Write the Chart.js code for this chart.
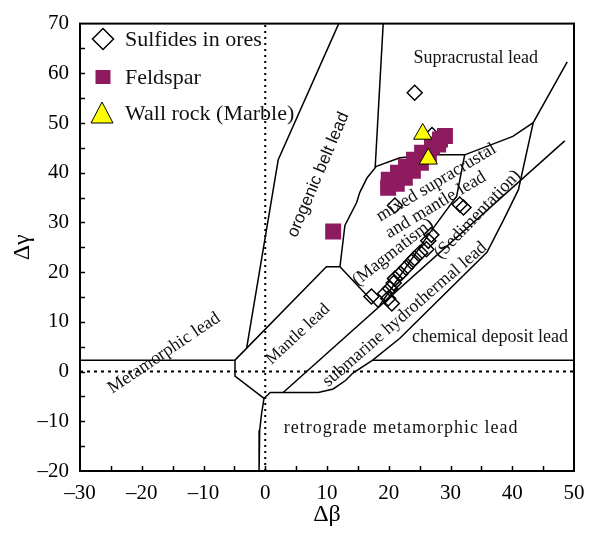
<!DOCTYPE html>
<html>
<head>
<meta charset="utf-8">
<script src="https://cdn.jsdelivr.net/npm/chart.js@4.4.0/dist/chart.umd.min.js"></script>
<style>
  html, body { margin: 0; padding: 0; background: #ffffff; }
  canvas { display: block; }
</style>
</head>
<body>
<canvas id="chart" width="596" height="534"></canvas>
<script>
// ---- Measured lead isotope values (Δβ, Δγ) ----
const sulfideDb = [24.2, 27.0, 21.0, 31.5, 32.1, 26.9, 26.4, 26.1, 25.1, 24.2, 23.7, 22.8, 21.9, 21.0, 20.2, 19.4, 17.2, 20.5, 19.9, 20.8];
const sulfideDg = [56.1, 47.6, 33.4, 33.6, 33.0, 27.5, 26.3, 24.6, 23.9, 22.8, 22.1, 20.9, 19.7, 18.7, 16.7, 15.7, 15.1, 13.7, 14.7, 17.8];

const feldsparDb = [11.0, 19.9, 20.0, 21.3, 21.5, 22.6, 22.8, 23.9, 24.1, 25.2, 25.4, 26.5, 27.0, 28.0, 28.3, 29.1];
const feldsparDg = [28.2, 37.0, 38.6, 37.8, 40.0, 39.0, 41.2, 40.4, 42.6, 42.0, 44.0, 43.4, 45.2, 45.7, 46.7, 47.4];

const marbleDb = [25.5, 26.4];
const marbleDg = [47.8, 42.8];

// ---- Axis ticks ----
const xTicks = [-30, -20, -10, 0, 10, 20, 30, 40, 50];
const yTicks = [-20, -10, 0, 10, 20, 30, 40, 50, 60, 70];

// ---- Field boundaries of the Δβ–Δγ discrimination diagram ([Δβ, Δγ] vertices) ----
const metamorphicShelf = [[-30, 2.3], [-4.9, 2.3], [-4.9, -0.9], [-0.2, -5.4]];
const retrogradeEdge   = [[-0.2, -5.4], [-0.6, -8.5], [-0.9, -11.8], [-1.0, -20]];
const submarineLower   = [[-0.2, -5.4], [0.8, -4.2], [8.6, -4.2], [11.0, -3.5], [13.0, -1.8], [14.2, -0.3],
                          [17.4, 2.3], [21.8, 6.7], [35.9, 24.0], [38.6, 30.5], [41.0, 36.6], [43.4, 50.1], [48.9, 62.3]];
const chemicalBase     = [[17.4, 2.3], [50, 2.3]];
const submarineUpper   = [[2.9, -4.2], [48.5, 46.4]];
const mantleOutline    = [[-4.9, 2.3], [9.9, 21.1], [12.1, 21.1], [18.3, 12.9]];
const mixedTop         = [[12.1, 21.1], [12.9, 29.4], [14.8, 34.0], [15.3, 36.0], [16.5, 39.0], [18.0, 41.3],
                          [21.8, 43.0], [27.5, 43.6], [32.3, 43.6], [40.1, 47.3], [43.4, 50.1]];
const mixedDivider     = [[32.3, 43.6], [31.0, 35.3], [26.7, 28.0], [18.3, 12.9]];
const orogenicLeft     = [[-3.0, 4.8], [2.1, 42.6], [11.9, 70]];
const orogenicRight    = [[19.1, 70], [17.8, 41.0]];
const zeroGammaLine    = [[-30, 0], [50, 0]];
const zeroBetaLine     = [[0, -20], [0, 70]];

// ---- Field names ----
const fieldLabels = [
  { text: 'Supracrustal lead',           x: 34.1,  y: 63.0,  angle: 0,   size: 18 },
  { text: 'orogenic belt lead',          x: 8.6,   y: 39.6,  angle: -67, size: 17, sans: true },
  { text: 'Metamorphic lead',            x: -16.4, y: 3.7,   angle: -34, size: 18 },
  { text: 'Mantle lead',                 x: 5.3,   y: 7.5,   angle: -43, size: 17 },
  { text: 'submarine hydrothermal lead', x: 22.6,  y: 11.5,  angle: -41, size: 18 },
  { text: 'chemical deposit lead',       x: 36.4,  y: 6.9,   angle: 0,   size: 18 },
  { text: 'retrograde metamorphic lead', x: 22.0,  y: -11.4, angle: 0,   size: 18, spacing: 1 },
  { text: 'mixed supracrustal',          x: 27.7,  y: 38.0,  angle: -31, size: 18 },
  { text: 'and mantle lead',             x: 27.6,  y: 33.5,  angle: -31, size: 18 },
  { text: '(Magmatism)',                 x: 20.7,  y: 24.0,  angle: -38, size: 18 },
  { text: '(Sedimentation)',             x: 34.4,  y: 31.6,  angle: -46, size: 18 }
];

const SERIF = "'Liberation Serif', 'Times New Roman', serif";
const SANS = "'Liberation Sans', Arial, sans-serif";
const FELDSPAR_COLOR = '#8e1a5f';

const toPoints = (xs, ys) => xs.map((x, i) => ({ x: x, y: ys[i] }));
const toPath = arr => arr.map(p => ({ x: p[0], y: p[1] }));

function boundary(path, dash) {
  return {
    type: 'scatter',
    data: toPath(path),
    showLine: true,
    borderColor: '#000000',
    borderWidth: dash ? 2 : 1.5,
    borderDash: dash || [],
    pointRadius: 0,
    pointHoverRadius: 0,
    fill: false,
    tension: 0
  };
}

const markerSets = [
  {
    label: 'Wall rock (Marble)',
    data: toPoints(marbleDb, marbleDg),
    pointStyle: 'triangle',
    pointRadius: 10.5,
    backgroundColor: '#ffff00',
    borderColor: '#000000',
    borderWidth: 1
  },
  {
    label: 'Feldspar',
    data: toPoints(feldsparDb, feldsparDg),
    pointStyle: 'rect',
    pointRadius: 11.3,
    backgroundColor: FELDSPAR_COLOR,
    borderColor: FELDSPAR_COLOR,
    borderWidth: 0
  },
  {
    label: 'Sulfides in ores',
    data: toPoints(sulfideDb, sulfideDg),
    pointStyle: 'rectRot',
    pointRadius: 7.5,
    backgroundColor: 'rgba(0,0,0,0)',
    borderColor: '#000000',
    borderWidth: 1.5
  }
];

const lineSets = [
  boundary(metamorphicShelf), boundary(retrogradeEdge), boundary(submarineLower),
  boundary(chemicalBase), boundary(submarineUpper), boundary(mantleOutline),
  boundary(mixedTop), boundary(mixedDivider), boundary(orogenicLeft), boundary(orogenicRight),
  boundary(zeroGammaLine, [3, 4]), boundary(zeroBetaLine, [2, 4])
];

// Frame, inward tick marks, field names and legend
const decorations = {
  id: 'decorations',
  afterDatasetsDraw(chart) {
    const ctx = chart.ctx;
    const xs = chart.scales.x, ys = chart.scales.y;

    ctx.save();
    ctx.fillStyle = '#111111';
    ctx.textAlign = 'center';
    ctx.textBaseline = 'middle';
    fieldLabels.forEach(l => {
      ctx.save();
      ctx.translate(xs.getPixelForValue(l.x), ys.getPixelForValue(l.y));
      ctx.rotate(l.angle * Math.PI / 180);
      ctx.font = l.size + 'px ' + (l.sans ? SANS : SERIF);
      if ('letterSpacing' in ctx) ctx.letterSpacing = (l.spacing || 0) + 'px';
      ctx.fillText(l.text, 0, 0);
      ctx.restore();
    });
    ctx.restore();
  },
  afterDraw(chart) {
    const ctx = chart.ctx;
    const xs = chart.scales.x, ys = chart.scales.y;
    const a = chart.chartArea;
    ctx.save();
    ctx.strokeStyle = '#000000';

    // inward tick marks every 5 units
    ctx.lineWidth = 1.5;
    ctx.beginPath();
    for (let v = xs.min + 5; v < xs.max; v += 5) {
      const px = Math.round(xs.getPixelForValue(v)) + 0.5;
      ctx.moveTo(px, a.bottom);
      ctx.lineTo(px, a.bottom - 5);
    }
    for (let v = ys.min + 5; v < ys.max; v += 5) {
      const py = Math.round(ys.getPixelForValue(v)) + 0.5;
      ctx.moveTo(a.left, py);
      ctx.lineTo(a.left + 5, py);
    }
    ctx.stroke();

    // plot frame
    ctx.lineWidth = 2;
    ctx.strokeRect(a.left, a.top, a.right - a.left, a.bottom - a.top);

    // legend
    const rows = [
      { set: chart.data.datasets[2], y: 39 },
      { set: chart.data.datasets[1], y: 77 },
      { set: chart.data.datasets[0], y: 113 }
    ];
    const cx = 103;
    rows.forEach(r => {
      const d = r.set;
      ctx.beginPath();
      if (d.pointStyle === 'rectRot') {
        const s = 10.5;
        ctx.moveTo(cx - s, r.y); ctx.lineTo(cx, r.y - s); ctx.lineTo(cx + s, r.y); ctx.lineTo(cx, r.y + s);
        ctx.closePath();
        ctx.lineWidth = 1.5; ctx.strokeStyle = '#000'; ctx.stroke();
      } else if (d.pointStyle === 'rect') {
        ctx.rect(cx - 7.5, r.y - 7, 15, 14);
        ctx.fillStyle = d.backgroundColor; ctx.fill();
      } else {
        ctx.moveTo(cx - 1, r.y - 11); ctx.lineTo(cx + 10, r.y + 10); ctx.lineTo(cx - 12, r.y + 10);
        ctx.closePath();
        ctx.fillStyle = d.backgroundColor; ctx.fill();
        ctx.lineWidth = 1; ctx.strokeStyle = '#000'; ctx.stroke();
      }
      ctx.fillStyle = '#111111';
      ctx.font = '22px ' + SERIF;
      ctx.textAlign = 'left';
      ctx.textBaseline = 'middle';
      ctx.fillText(d.label, 125, r.y + 1);
    });
    ctx.restore();
  }
};

const tickLabel = v => (v < 0 ? '\u2013' + Math.abs(v) : String(v));

new Chart(document.getElementById('chart'), {
  type: 'scatter',
  data: { datasets: markerSets.concat(lineSets) },
  options: {
    responsive: false,
    animation: false,
    devicePixelRatio: 1,
    layout: { padding: { top: 20, right: 22, left: 0, bottom: 0 } },
    plugins: { legend: { display: false }, tooltip: { enabled: false } },
    events: [],
    scales: {
      x: {
        type: 'linear',
        min: -30, max: 50,
        afterBuildTicks: s => { s.ticks = xTicks.map(v => ({ value: v })); },
        afterFit: s => { s.height = 63; },
        grid: { display: false, drawTicks: false },
        border: { display: false },
        ticks: { callback: tickLabel, color: '#000', padding: 10, maxRotation: 0, autoSkip: false,
                 font: { family: SERIF, size: 21 } },
        title: { display: true, text: 'Δβ', color: '#000', padding: { top: 0, bottom: 5 },
                 font: { family: SERIF, size: 24 } }
      },
      y: {
        type: 'linear',
        min: -20, max: 70,
        afterBuildTicks: s => { s.ticks = yTicks.map(v => ({ value: v })); },
        afterFit: s => { s.width = 80; },
        grid: { display: false, drawTicks: false },
        border: { display: false },
        ticks: { callback: tickLabel, color: '#000', padding: 11, autoSkip: false,
                 font: { family: SERIF, size: 21 } },
        title: { display: true, text: 'Δγ', color: '#000', padding: { top: 8, bottom: 0 },
                 font: { family: SERIF, size: 24 } }
      }
    }
  },
  plugins: [decorations]
});
</script>
</body>
</html>
